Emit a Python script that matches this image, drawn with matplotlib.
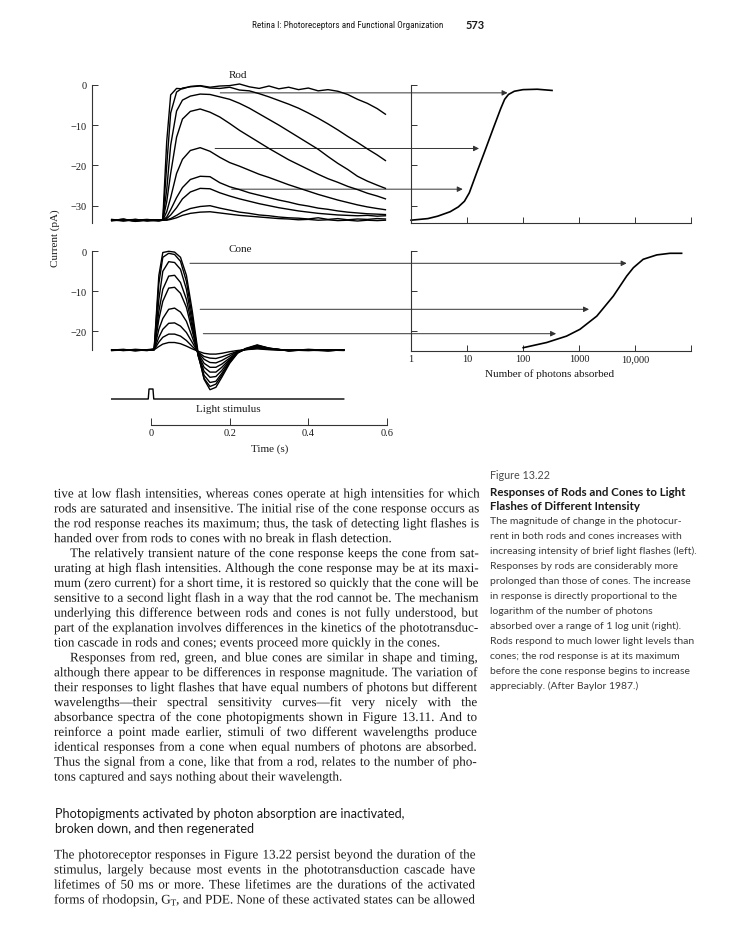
import matplotlib
matplotlib.use('Agg')
import matplotlib.pyplot as plt
import matplotlib.patheffects as pe
from matplotlib import font_manager
from matplotlib.ticker import NullLocator

plt.rcParams['font.family'] = ['Liberation Serif', 'DejaVu Serif']

# ---------------------------------------------------------------------------
# Data
# ---------------------------------------------------------------------------
# rod photocurrents (pA) versus time (s)
rod_t = [-0.10, -0.07, -0.04, -0.01, 0.02, 0.03, 0.04, 0.05, 0.065, 0.08, 0.10,
         0.125, 0.15, 0.175, 0.20, 0.225, 0.25, 0.275, 0.30, 0.325, 0.35, 0.375,
         0.40, 0.425, 0.45, 0.475, 0.50, 0.525, 0.55, 0.575, 0.596]
rod_1 = [-33.7, -33.3, -33.9, -33.5, -33.6, -33.4, -14.0, -2.5, -0.9, -1.0, -0.4,
         -0.2, -0.6, -0.3, -0.2, 0.2, -0.5, -0.9, -0.3, -1.0, -0.6, -1.2,
         -0.8, -1.5, -1.2, -1.6, -2.4, -3.6, -4.6, -5.9, -7.3]
rod_2 = [-33.5, -33.8, -33.4, -33.7, -33.5, -33.6, -20.0, -7.0, -1.8, -0.8, -0.5,
         -0.3, -0.8, -0.9, -0.6, -1.3, -1.5, -2.2, -3.0, -3.9, -4.8, -5.8,
         -7.0, -8.3, -9.7, -11.2, -12.8, -14.3, -15.9, -17.4, -18.8]
rod_3 = [-33.6, -33.4, -33.8, -33.6, -33.7, -33.5, -26.0, -15.0, -6.5, -3.8, -2.8,
         -2.3, -2.4, -3.0, -3.6, -4.6, -5.8, -7.2, -8.6, -10.0, -11.5, -13.0,
         -14.5, -16.0, -17.8, -19.5, -21.0, -22.7, -23.9, -24.9, -25.7]
rod_4 = [-33.4, -33.7, -33.5, -33.8, -33.5, -33.6, -29.0, -22.0, -13.0, -8.5, -6.6,
         -6.0, -6.8, -8.0, -9.6, -11.3, -12.8, -14.3, -15.8, -17.2, -18.6, -19.8,
         -21.0, -22.2, -23.3, -24.2, -25.2, -26.0, -26.9, -27.6, -28.3]
rod_5 = [-33.7, -33.5, -33.6, -33.4, -33.7, -33.6, -31.5, -28.0, -22.0, -18.5, -16.3,
         -15.6, -16.5, -18.0, -19.3, -20.2, -21.2, -22.2, -23.0, -23.9, -24.8, -25.6,
         -26.4, -27.2, -27.9, -28.6, -29.2, -29.8, -30.3, -30.7, -31.0]
rod_6 = [-33.5, -33.6, -33.8, -33.5, -33.6, -33.6, -32.8, -31.0, -28.0, -25.5, -23.5,
         -22.7, -22.8, -24.3, -25.3, -26.0, -26.8, -27.4, -28.0, -28.6, -29.1, -29.7,
         -30.1, -30.6, -30.9, -31.3, -31.6, -31.8, -32.0, -32.1, -32.2]
rod_7 = [-33.6, -33.4, -33.7, -33.6, -33.5, -33.6, -33.2, -32.3, -30.5, -28.3, -26.6,
         -25.7, -25.8, -26.8, -27.6, -28.3, -28.9, -29.5, -30.0, -30.5, -30.9, -31.3,
         -31.6, -31.9, -32.1, -32.3, -32.4, -32.5, -32.4, -32.6, -32.5]
rod_8 = [-33.5, -33.7, -33.5, -33.6, -33.8, -33.6, -33.5, -33.2, -32.4, -31.5, -30.7,
         -30.2, -30.0, -30.6, -31.1, -31.6, -31.9, -32.3, -32.5, -32.8, -33.0, -33.1,
         -33.3, -33.0, -33.4, -33.2, -33.5, -33.3, -33.4, -33.2, -33.3]
rod_9 = [-33.7, -33.6, -33.4, -33.7, -33.6, -33.6, -33.6, -33.4, -33.0, -32.4, -31.9,
         -31.6, -31.5, -31.8, -32.1, -32.4, -32.6, -32.8, -33.0, -33.2, -33.3, -33.5,
         -33.4, -33.6, -33.5, -33.7, -33.6, -33.8, -33.6, -33.7, -33.6]
rod_traces = [rod_1, rod_2, rod_3, rod_4, rod_5, rod_6, rod_7, rod_8, rod_9]

# cone photocurrents (pA) versus time (s)
cone_t = [-0.10, -0.07, -0.04, -0.01, 0.008, 0.02, 0.03, 0.045, 0.06, 0.075, 0.09,
          0.105, 0.12, 0.135, 0.15, 0.165, 0.18, 0.20, 0.22, 0.24, 0.27, 0.30,
          0.35, 0.40, 0.45, 0.49]
cone_1 = [-24.7, -24.5, -24.9, -24.6, -24.4, -6.0, -0.3, 0.0, -0.2, -1.5, -6.0,
          -15.0, -25.5, -32.0, -34.6, -34.0, -31.5, -28.0, -25.5, -24.3, -23.4, -24.2,
          -24.9, -24.6, -24.8, -24.7]
cone_2 = [-24.6, -24.8, -24.5, -24.7, -24.5, -8.0, -1.5, -0.5, -0.8, -2.5, -7.5,
          -16.5, -26.0, -31.8, -33.8, -33.2, -31.0, -27.8, -25.4, -24.4, -23.5, -24.3,
          -24.8, -24.7, -24.9, -24.6]
cone_3 = [-24.8, -24.6, -24.7, -24.8, -24.5, -12.0, -5.0, -2.6, -2.8, -4.5, -9.5,
          -18.0, -26.2, -31.0, -32.8, -32.5, -30.5, -27.5, -25.3, -24.5, -23.6, -24.2,
          -24.9, -24.5, -24.8, -24.7]
cone_4 = [-24.7, -24.7, -24.6, -24.7, -24.5, -15.0, -9.5, -6.2, -6.0, -7.8, -12.0,
          -19.0, -26.0, -30.0, -31.5, -31.3, -29.8, -27.2, -25.2, -24.4, -23.7, -24.3,
          -24.8, -24.6, -24.7, -24.8]
cone_5 = [-24.6, -24.8, -24.7, -24.6, -24.6, -17.0, -12.5, -9.2, -9.0, -10.5, -14.0,
          -20.0, -25.8, -29.0, -30.2, -30.2, -29.0, -27.0, -25.2, -24.5, -23.8, -24.4,
          -24.7, -24.8, -24.6, -24.7]
cone_6 = [-24.7, -24.6, -24.8, -24.7, -24.6, -19.5, -16.8, -14.5, -14.2, -15.2, -17.5,
          -21.5, -25.5, -28.0, -29.0, -29.0, -28.2, -26.7, -25.2, -24.5, -23.9, -24.4,
          -24.8, -24.7, -24.8, -24.6]
cone_7 = [-24.8, -24.7, -24.6, -24.8, -24.6, -21.5, -19.5, -18.0, -17.9, -18.7, -20.3,
          -22.8, -25.3, -27.0, -27.8, -27.9, -27.3, -26.2, -25.0, -24.5, -24.0, -24.5,
          -24.7, -24.8, -24.7, -24.7]
cone_8 = [-24.7, -24.7, -24.8, -24.6, -24.6, -22.7, -21.5, -20.7, -20.7, -21.2, -22.3,
          -23.8, -25.2, -26.3, -26.7, -26.8, -26.4, -25.7, -25.0, -24.6, -24.2, -24.5,
          -24.8, -24.6, -24.8, -24.7]
cone_9 = [-24.6, -24.7, -24.7, -24.7, -24.6, -23.8, -23.2, -22.8, -22.8, -23.1, -23.7,
          -24.4, -25.0, -25.5, -25.7, -25.7, -25.5, -25.1, -24.8, -24.6, -24.4, -24.6,
          -24.7, -24.7, -24.8, -24.7]
cone_traces = [cone_1, cone_2, cone_3, cone_4, cone_5, cone_6, cone_7, cone_8, cone_9]

# light stimulus (flash at t = 0)
stim_t = [-0.10, -0.007, -0.005, 0.005, 0.007, 0.49]
stim_v = [0, 0, 1, 1, 0, 0]

# peak response versus number of photons absorbed
rod_photons = [1, 2, 3, 5, 7, 9, 11, 15, 20, 30, 40, 47, 55, 70, 100, 180, 330]
rod_peak = [-33.6, -33.2, -32.6, -31.5, -30.3, -28.9, -26.8, -21.7, -17.1, -10.5,
            -5.9, -3.6, -2.4, -1.6, -1.2, -1.1, -1.4]
cone_photons = [101, 265, 600, 1040, 2080, 4100, 7100, 9360, 14000, 24500, 42000, 68000]
cone_peak = [-24.1, -22.8, -21.2, -19.5, -16.2, -11.2, -6.2, -4.1, -2.0, -0.9, -0.5, -0.5]

# arrows: (time on trace, current level, photons at arrow tip)
rod_arrows = [(0.176, -2.0, 53), (0.163, -15.8, 16.4), (0.205, -25.9, 8.4)]
cone_arrows = [(0.099, -3.0, 7100), (0.125, -14.5, 1510), (0.133, -20.6, 390)]

photon_ticks = [1, 10, 100, 1000, 10000, 100000]
photon_labels = ['1', '10', '100', '1000', '10,000', '']
time_ticks = [0, 0.2, 0.4, 0.6]
time_labels = ['0', '0.2', '0.4', '0.6']

# ---------------------------------------------------------------------------
# Page text
# ---------------------------------------------------------------------------
header = 'Retina I: Photoreceptors and Functional Organization'
page_no = '573'

caption_label = 'Figure 13.22'
caption_title = ['Responses of Rods and Cones to Light',
                 'Flashes of Different Intensity']
caption_body = ['The magnitude of change in the photocur-',
                'rent in both rods and cones increases with',
                'increasing intensity of brief light flashes (left).',
                'Responses by rods are considerably more',
                'prolonged than those of cones. The increase',
                'in response is directly proportional to the',
                'logarithm of the number of photons',
                'absorbed over a range of 1 log unit (right).',
                'Rods respond to much lower light levels than',
                'cones; the rod response is at its maximum',
                'before the cone response begins to increase',
                'appreciably. (After Baylor 1987.)']

# (text, indented, justified)
body_lines = [
    ('tive at low flash intensities, whereas cones operate at high intensities for which', False, True),
    ('rods are saturated and insensitive. The initial rise of the cone response occurs as', False, True),
    ('the rod response reaches its maximum; thus, the task of detecting light flashes is', False, True),
    ('handed over from rods to cones with no break in flash detection.', False, False),
    ('The relatively transient nature of the cone response keeps the cone from sat-', True, True),
    ('urating at high flash intensities. Although the cone response may be at its maxi-', False, True),
    ('mum (zero current) for a short time, it is restored so quickly that the cone will be', False, True),
    ('sensitive to a second light flash in a way that the rod cannot be. The mechanism', False, True),
    ('underlying this difference between rods and cones is not fully understood, but', False, True),
    ('part of the explanation involves differences in the kinetics of the phototransduc-', False, True),
    ('tion cascade in rods and cones; events proceed more quickly in the cones.', False, False),
    ('Responses from red, green, and blue cones are similar in shape and timing,', True, True),
    ('although there appear to be differences in response magnitude. The variation of', False, True),
    ('their responses to light flashes that have equal numbers of photons but different', False, True),
    ('wavelengths\u2014their spectral sensitivity curves\u2014fit very nicely with the', False, True),
    ('absorbance spectra of the cone photopigments shown in Figure 13.11. And to', False, True),
    ('reinforce a point made earlier, stimuli of two different wavelengths produce', False, True),
    ('identical responses from a cone when equal numbers of photons are absorbed.', False, True),
    ('Thus the signal from a cone, like that from a rod, relates to the number of pho-', False, True),
    ('tons captured and says nothing about their wavelength.', False, False),
]
heading = ['Photopigments activated by photon absorption are inactivated,',
           'broken down, and then regenerated']
last_lines = [
    ('The photoreceptor responses in Figure 13.22 persist beyond the duration of the', False, True),
    ('stimulus, largely because most events in the phototransduction cascade have', False, True),
    ('lifetimes of 50 ms or more. These lifetimes are the durations of the activated', False, True),
    ('forms of rhodopsin, G_T, and PDE. None of these activated states can be allowed', False, True),
]

# ---------------------------------------------------------------------------
W, H = 745, 929
fig = plt.figure(figsize=(W / 100, H / 100), dpi=100)
renderer = fig.canvas.get_renderer()
SERIF = ['Liberation Serif', 'DejaVu Serif']
SANS = ['Lato', 'DejaVu Sans']
INK = '#1a1a1a'
# drawing the words as outlines keeps every word on the same baseline
ON_LINE = [pe.Normal()]


def narrow_font():
    # look for an installed narrow / condensed sans face for the running header
    prefs = ['Open Sans', 'Noto Sans', 'Roboto', 'Lato', 'Liberation Sans', 'DejaVu Sans']
    found = []
    for f in font_manager.fontManager.ttflist:
        tag = (f.name + ' ' + str(f.stretch) + ' ' + f.fname).lower()
        if f.style != 'normal' or f.weight not in (400, 'normal', 'regular'):
            continue
        if 'mono' in tag or 'serif' in f.name.lower():
            continue
        if ('condensed' in tag or 'narrow' in tag) and 'extra' not in tag and 'ultra' not in tag:
            rank = next((i for i, p in enumerate(prefs) if f.name.startswith(p)), 99)
            found.append((rank, 'semi' in tag, f.fname))
    if found:
        found.sort()
        return dict(fontproperties=font_manager.FontProperties(fname=found[0][2]))
    return dict(family=SANS)


NARROW = narrow_font()


def fx(x):
    return x / W


def fy(y):
    return 1 - y / H


def box(l, t, r, b):
    ax = fig.add_axes([l / W, 1 - b / H, (r - l) / W, (b - t) / H])
    ax.patch.set_visible(False)
    return ax


def text_width(s, size, **kw):
    t = fig.text(0, 0, s, **kw)
    t.set_fontsize(size)
    w = t.get_window_extent(renderer).width
    t.remove()
    return w


def fit_size(s, target, **kw):
    return 10 * target / text_width(s, 10, **kw)


def right_edge(y):
    # the scanned page is slightly skewed
    return 479.5 - (y - 495) * 4.5 / 406


def word_parts(w):
    # a word such as "G_T," is set as G, subscript T and the rest
    if '_' in w:
        a, b = w.split('_', 1)
        return [(a, 1.0, 0.0), (b[0], 0.7, -2.0), (b[1:], 1.0, 0.0)]
    return [(w, 1.0, 0.0)]


def paragraph(lines, x0, y0, dy, size, indent=16):
    sp = text_width('a a', size, family=SERIF) - text_width('aa', size, family=SERIF)
    for i, (line, ind, just) in enumerate(lines):
        y = y0 + i * dy
        words = [word_parts(w) for w in line.split(' ')]
        widths = [sum(text_width(p, size * k, family=SERIF) for p, k, _ in parts if p)
                  for parts in words]
        x = x0 + (indent if ind else 0)
        gap = sp
        if just and len(words) > 1:
            gap = (right_edge(y) - x - sum(widths)) / (len(words) - 1)
        for parts, wd in zip(words, widths):
            xx = x
            for p, k, rise in parts:
                if not p:
                    continue
                fig.text(fx(xx), fy(y + 3.5 - rise), p, fontsize=size * k, family=SERIF,
                         va='baseline', ha='left', color=INK, path_effects=ON_LINE)
                xx += text_width(p, size * k, family=SERIF)
            x += wd + gap


def style_ticks(ax):
    ax.tick_params(direction='in', length=4, width=0.7, labelsize=7.5,
                   color='#333333', labelcolor=INK)
    for s in ax.spines.values():
        s.set_linewidth(0.8)
        s.set_color('#333333')


# ---------------------------------------------------------------------------
# Rod traces (left, top)
ax_rod = box(92, 80, 387, 223.5)
ax_rod.set_xlim(-0.15, 0.6)
ax_rod.set_ylim(-34.17, 1.44)
ax_rod_r = box(411, 80, 691, 223.5)
ax_rod_r.set_xscale('log')
ax_rod_r.set_xlim(1, 1e5)
ax_rod_r.set_ylim(-34.17, 1.44)

for tr in rod_traces:
    ax_rod.plot(rod_t, tr, color='black', lw=1.0, zorder=3, clip_on=False)
for t0, lvl, n in rod_arrows:
    ax_rod.annotate('', xy=(n, lvl), xycoords=ax_rod_r.transData,
                    xytext=(t0, lvl), textcoords='data', annotation_clip=False,
                    arrowprops=dict(arrowstyle='-|>', color='#333333', lw=0.7,
                                    mutation_scale=8, shrinkA=0, shrinkB=0),
                    zorder=1)

# Cone traces (left, bottom)
ax_cone = box(92, 246, 387, 351)
ax_cone.set_xlim(-0.15, 0.6)
ax_cone.set_ylim(-24.675, 1.575)
ax_cone_r = box(411, 246, 691, 352)
ax_cone_r.set_xscale('log')
ax_cone_r.set_xlim(1, 1e5)
ax_cone_r.set_ylim(-24.925, 1.575)

for tr in cone_traces:
    ax_cone.plot(cone_t, tr, color='black', lw=1.0, zorder=3, clip_on=False)
for t0, lvl, n in cone_arrows:
    ax_cone.annotate('', xy=(n, lvl), xycoords=ax_cone_r.transData,
                     xytext=(t0, lvl), textcoords='data', annotation_clip=False,
                     arrowprops=dict(arrowstyle='-|>', color='#333333', lw=0.7,
                                     mutation_scale=8, shrinkA=0, shrinkB=0),
                     zorder=1)

# left panel axes
for ax, lo, ticks in [(ax_rod, -34.17, [0, -10, -20, -30]),
                      (ax_cone, -24.675, [0, -10, -20])]:
    style_ticks(ax)
    for s in ['top', 'right', 'bottom']:
        ax.spines[s].set_visible(False)
    ax.spines['left'].set_bounds(lo, 0)
    ax.set_xticks([])
    ax.set_yticks(ticks)
    ax.set_yticklabels(['0' if v == 0 else '\u2212%d' % -v for v in ticks])
    ax.tick_params(axis='y', pad=4)

# right panel axes (response vs photons)
ax_rod_r.plot(rod_photons, rod_peak, color='black', lw=1.2, clip_on=False)
ax_cone_r.plot(cone_photons, cone_peak, color='black', lw=1.2, clip_on=False)
for ax, lo, ticks, labels in [(ax_rod_r, -34.17, [0, -10, -20, -30], [''] * 6),
                              (ax_cone_r, -24.925, [0, -10, -20], photon_labels)]:
    style_ticks(ax)
    for s in ['top', 'right']:
        ax.spines[s].set_visible(False)
    ax.spines['left'].set_bounds(lo, 0)
    ax.set_yticks(ticks)
    ax.set_yticklabels([])
    ax.set_xticks(photon_ticks)
    ax.xaxis.set_minor_locator(NullLocator())
    ax.set_xticklabels(labels)
    ax.tick_params(axis='x', pad=2.5)

# light stimulus
ax_st = box(92, 385, 387, 402)
ax_st.set_xlim(-0.15, 0.6)
ax_st.set_ylim(-0.2, 1.5)
ax_st.plot(stim_t, stim_v, color='black', lw=1.0)
ax_st.axis('off')

# time axis
ax_time = box(92, 400, 387, 426)
ax_time.set_xlim(-0.15, 0.6)
ax_time.set_ylim(0, 1)
style_ticks(ax_time)
for s in ['top', 'right', 'left']:
    ax_time.spines[s].set_visible(False)
ax_time.spines['bottom'].set_bounds(0, 0.6)
ax_time.set_yticks([])
ax_time.set_xticks(time_ticks)
ax_time.set_xticklabels(time_labels)
ax_time.tick_params(axis='x', length=5, pad=2)

# figure labels
lab = dict(fontsize=8, family=SERIF, color=INK, ha='center', va='center')
fig.text(fx(238), fy(75), 'Rod', **lab)
fig.text(fx(240), fy(250), 'Cone', **lab)
fig.text(fx(55), fy(238), 'Current (pA)', rotation=90, **lab)
fig.text(fx(228), fy(409), 'Light stimulus', **lab)
fig.text(fx(270), fy(449), 'Time (s)', **lab)
fig.text(fx(550), fy(374), 'Number of photons absorbed', **lab)

# ---------------------------------------------------------------------------
# running header
hs = min(fit_size(header, 190, **NARROW), 8.0)
fig.text(fx(443), fy(28.5), header, color=INK, va='baseline', ha='right',
         **NARROW).set_fontsize(hs)
ps = fit_size(page_no, 19, family=SANS, weight='bold')
fig.text(fx(466), fy(29), page_no, fontsize=ps, family=SANS, weight='bold',
         color=INK, va='baseline')

# caption
fs = fit_size(caption_label, 60, family=SANS)
fig.text(fx(490), fy(479), caption_label, fontsize=fs, family=SANS,
         color='#4a4a4a', va='baseline')
bs = fit_size(caption_title[0], 195, family=SANS, weight='bold')
for i, s in enumerate(caption_title):
    fig.text(fx(490), fy(496 + i * 14.5), s, fontsize=bs, family=SANS,
             weight='bold', color=INK, va='baseline')
cs = fit_size(caption_body[0], 192, family=SANS)
for i, s in enumerate(caption_body):
    fig.text(fx(490), fy(524 + i * 15), s, fontsize=cs, family=SANS,
             color='#3a3a3a', va='baseline')

# body text
body_size = min(fit_size(line, right_edge(495 + i * 14.9) - 54 - (16 if ind else 0),
                         family=SERIF)
                for i, (line, ind, just) in enumerate(body_lines) if just)
paragraph(body_lines, 54, 495, 14.9, body_size)

hd = fit_size(heading[0], 349, family=SANS)
for i, s in enumerate(heading):
    fig.text(fx(55), fy(818 + i * 15), s, fontsize=hd, family=SANS,
             color=INK, va='baseline')

paragraph(last_lines, 54, 856, 15, body_size)

fig.savefig('out.png', dpi=100, facecolor='white')
